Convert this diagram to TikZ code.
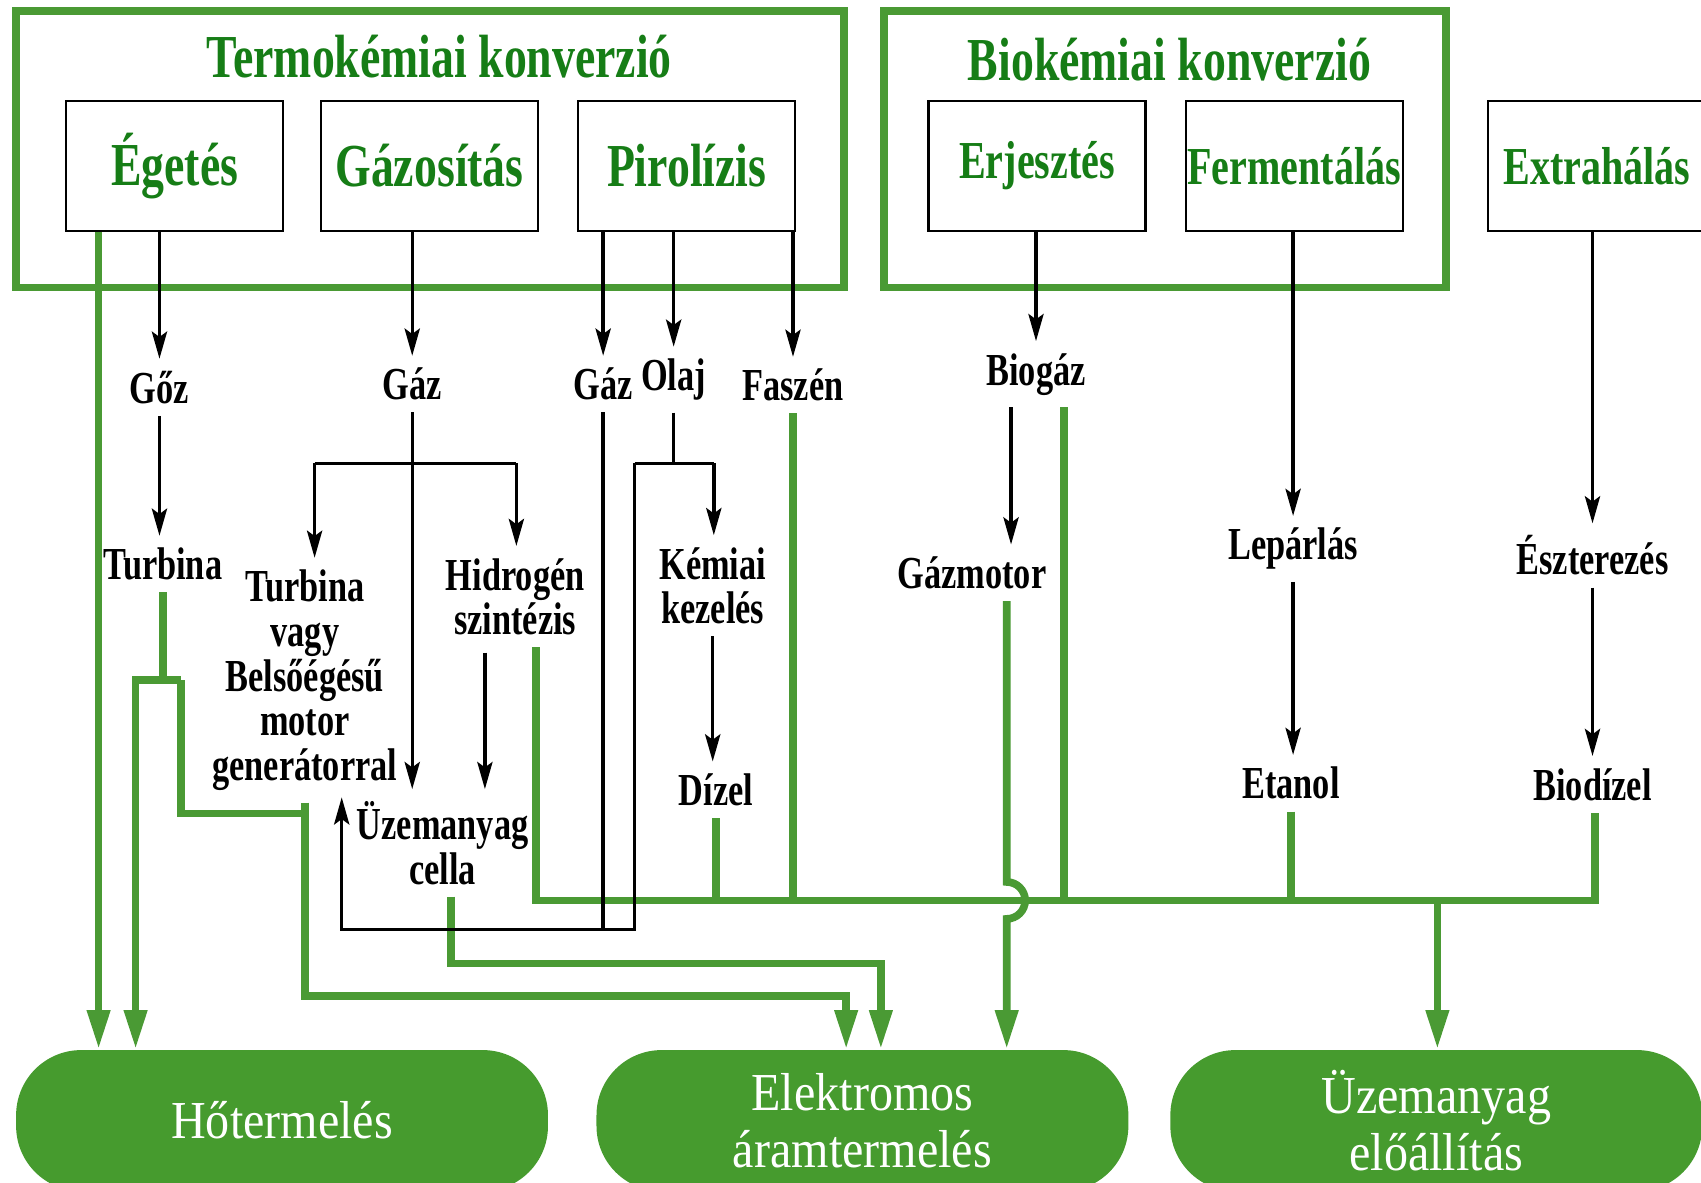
\documentclass[tikz,border=0pt]{standalone}
\usepackage{fontspec}
\setmainfont{Liberation Serif}[FakeStretch=0.75]
\newfontfamily\pillfont{Liberation Serif}[FakeStretch=0.9]
\usetikzlibrary{arrows.meta,calc}
\definecolor{pipegreen}{RGB}{74,154,52}
\definecolor{titlegreen}{RGB}{22,125,22}
\definecolor{pillgreen}{RGB}{70,155,46}

\begin{document}
\begin{tikzpicture}[x=0.01cm, y=-0.01cm,
    proc/.style={draw, line width=0.6pt, minimum width=2cm, minimum height=1.2cm, text=titlegreen, font=\bfseries\fontsize{16}{18}\selectfont},
    bioproc/.style={proc, inner xsep=0pt, font=\bfseries\fontsize{14}{16}\selectfont},
    group/.style={draw=pipegreen, line width=2pt},
    grouptitle/.style={text=titlegreen, font=\bfseries\fontsize{16}{18}\selectfont},
    lbl/.style={font=\bfseries\fontsize{12}{11.7}\selectfont, align=center, inner xsep=1pt, inner ysep=3pt},
    wire/.style={line width=0.9pt},
    flow/.style={wire, -{Stealth[length=0.25cm, width=0.14cm, inset=0.05cm]}},
    pipe/.style={draw=pipegreen, line width=2pt},
    pipeto/.style={pipe, -{Triangle[length=0.36cm, width=0.2cm]}},
    pill/.style={fill=pillgreen, rounded corners=0.6cm, minimum width=4.9cm, minimum height=1.3cm, text=white, align=center, font=\pillfont\fontsize{14}{15}\selectfont}]

    \useasboundingbox (0,0) rectangle (1568,1090);

    % Conversion groups
    \draw[group] (15,10) rectangle (778,265);
    \draw[group] (815,10) rectangle (1333,265);
    \node[grouptitle] (termo) at (405,52) {Termokémiai konverzió};
    \node[grouptitle] (bio) at (1078,55) {Biokémiai konverzió};

    % Processes
    \node[proc] (eget) at (161,153) {Égetés};
    \node[proc] (gazos) at (396,153) {Gázosítás};
    \node[proc] (piro) at (633,153) {Pirolízis};
    \node[bioproc] (erj) at (956,153) {Erjesztés};
    \node[bioproc] (ferm) at (1193,153) {Fermentálás};
    \node[bioproc] (extr) at (1472,153) {Extrahálás};

    % Intermediate products and steps
    \node[lbl] (goz) at (147,357) {Gőz};
    \node[lbl] (turb) at (150,520) {Turbina};
    \node[lbl] (gaz1) at (380,354) {Gáz};
    \node[lbl] (gaz2) at (556,354) {Gáz};
    \node[lbl] (olaj) at (621,350) {Olaj};
    \node[lbl] (fasz) at (731,355) {Faszén};
    \node[lbl] (tvagy) at (281,627) {Turbina\\vagy\\Belsőégésű\\motor\\generátorral};
    \node[lbl] (hidro) at (475,550) {Hidrogén\\szintézis};
    \node[lbl] (kemia) at (657,540) {Kémiai\\kezelés};
    \node[lbl] (cella) at (408,777) {Üzemanyag\\cella};
    \node[lbl] (dizel) at (660,728) {Dízel};
    \node[lbl] (biogaz) at (955,345) {Biogáz};
    \node[lbl] (gmotor) at (896,528) {Gázmotor};
    \node[lbl] (lepar) at (1192,506) {Lepárlás};
    \node[lbl] (etanol) at (1190,722) {Etanol};
    \node[lbl] (eszter) at (1468,512) {Észterezés};
    \node[lbl] (biodiz) at (1468,723) {Biodízel};

    % End uses
    \node[pill] (heat) at (260,1033) {Hőtermelés};
    \node[pill] (power) at (795,1033) {Elektromos\\áramtermelés};
    \node[pill] (fuel) at (1324,1033) {Üzemanyag\\előállítás};

    % Green lines to heat
    \coordinate (ege) at ($(eget.south west)+(31,0)$);
    \draw[pipeto] (ege) -- (ege |- heat.north);
    \coordinate (tl) at (125,627);
    \coordinate (tr) at (167,627);
    \coordinate (tj) at (281,750);
    \draw[pipe] (turb.south) -- (turb.south |- tl);
    \draw[pipeto] (tr) -- (tl) -- (tl |- heat.north);
    \draw[pipe] (tr) |- (tj);

    % Green lines to power
    \coordinate (gbot) at (780,918);
    \coordinate (cbot) at (812,888);
    \draw[pipeto] (tvagy.south) |- (gbot) -- (gbot |- power.north);
    \draw[pipeto] ([xshift=0.08cm]cella.south) |- (cbot) -- (cbot |- power.north);

    % Fuel bus
    \coordinate (busl) at (494,830);
    \coordinate (busr) at (1470,830);
    \coordinate (busd) at (1325,830);
    \coordinate (hop) at (928,830);
    \draw[pipe] (hidro.south -| busl) -- (busl) -- (busr) -- (busr |- biodiz.south);
    \draw[pipe] (dizel.south) -- (dizel.south |- busl);
    \draw[pipe] (fasz.south) -- (fasz.south |- busl);
    \coordinate (bgr) at ($(biogaz.south)+(26,0)$);
    \draw[pipe] (bgr) -- (bgr |- busl);
    \draw[pipe] (etanol.south) -- (etanol.south |- busl);
    \draw[pipeto] (busd) -- (busd |- fuel.north);
    % gas engine line hops over the bus
    \draw[pipeto] (gmotor.south -| hop) -- ($(hop)+(0,-17)$) arc[start angle=90, end angle=-90, radius=0.17cm] -- (hop |- power.north);

    % Black arrows, thermochemical side
    \draw[flow] (eget.south -| goz) -- (goz.north);
    \draw[flow] (goz.south) -- (goz.south |- turb.north);
    \draw[flow] (gazos.south -| gaz1) -- (gaz1.north);
    \draw[flow] (gaz1.south) -- (gaz1 |- cella.north);
    \coordinate (gl) at (290,427);
    \coordinate (gr) at (476,427);
    \draw[wire] (gl) -- (gr);
    \draw[flow] (gl) -- (gl |- tvagy.north);
    \draw[flow] (gr) -- (gr |- hidro.north);
    \coordinate (hdown) at ($(hidro.south)+(-28,5)$);
    \draw[flow] (hdown) -- (hdown |- cella.north);
    \draw[flow] (piro.south -| gaz2) -- (gaz2.north);
    \draw[flow] (piro.south -| olaj) -- (olaj.north);
    \draw[flow] (piro.south -| fasz) -- (fasz.north);
    \coordinate (ol) at (585,427);
    \coordinate (or) at (658,427);
    \draw[wire] (olaj.south) -- (olaj.south |- ol);
    \draw[wire] (ol) -- (or);
    \draw[flow] (or) -- (or |- kemia.north);
    \coordinate (lr) at (585,857);
    \coordinate (gasin) at (315,735);
    \draw[flow] (ol) -- (lr) -- (lr -| gasin) -- (gasin);
    \draw[wire] (gaz2.south) -- (gaz2.south |- lr);
    \draw[flow] (kemia.south) -- (kemia.south |- dizel.north);

    % Black arrows, biochemical side
    \draw[flow] (erj.south -| biogaz) -- (biogaz.north);
    \coordinate (bdown) at ($(biogaz.south)+(-23,0)$);
    \draw[flow] (bdown) -- (bdown |- gmotor.north);
    \draw[flow] (ferm.south -| lepar) -- (lepar.north);
    \draw[flow] (lepar.south) -- (lepar.south |- etanol.north);
    \draw[flow] (extr.south -| eszter) -- (eszter.north);
    \draw[flow] (eszter.south) -- (eszter.south |- biodiz.north);
\end{tikzpicture}
\end{document}
